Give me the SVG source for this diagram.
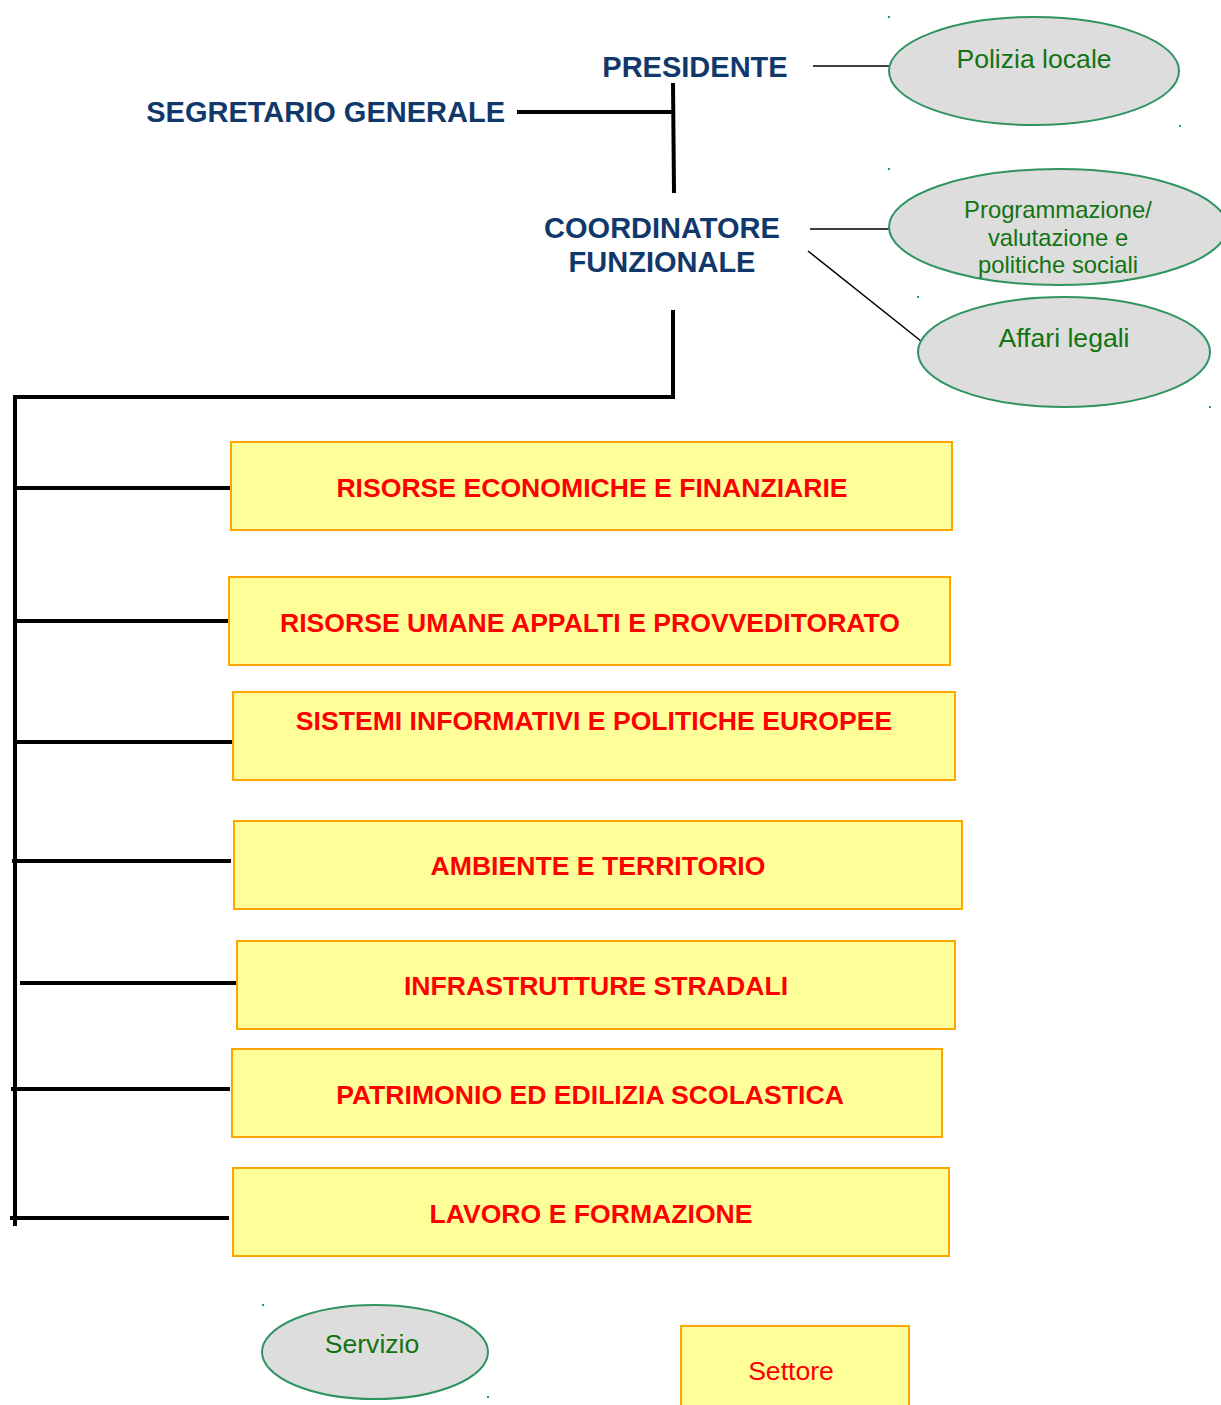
<svg xmlns="http://www.w3.org/2000/svg" width="1221" height="1405" viewBox="0 0 1221 1405">
<style>
.navy{font-family:"Liberation Sans",Arial,sans-serif;font-weight:bold;font-size:29px;fill:#10386b}
.red{font-family:"Liberation Sans",Arial,sans-serif;font-weight:bold;font-size:26.6px;fill:#f00;text-anchor:middle}
.grn{font-family:"Liberation Sans",Arial,sans-serif;font-size:26.6px;fill:#137313;text-anchor:middle}
.grn.sm{font-size:23.8px}
.ell{fill:#dddddd;stroke:#2f9460;stroke-width:2}
.box{fill:#ffff99;stroke:#ffa500;stroke-width:2}
.thick{stroke:#000;stroke-width:4;fill:none}
.thin{stroke:#000;stroke-width:1.5;fill:none}
.dot{fill:#2f9460}
</style>
<rect width="1221" height="1405" fill="#fff"/>
<g id="connectors">
<path class="thick" d="M517,112 H673 M673,83 L674,193 M673,310 V397 H15 M15,395 V1226"/>
<path class="thick" d="M15,488 H232 M13,621 H230 M15,742 H234 M12,861 H231 M20,983 H236 M11,1089 H230 M10,1218 H229"/>
<path class="thin" d="M813,66 H890 M810,229 H889 M808,251 L926,345"/>
</g>
<g id="presidente"><text class="navy" x="695" y="77" text-anchor="middle">PRESIDENTE</text></g>
<g id="segretario"><text class="navy" x="505" y="122" text-anchor="end">SEGRETARIO GENERALE</text></g>
<g id="coordinatore"><text class="navy" x="662" y="238" text-anchor="middle">COORDINATORE</text><text class="navy" x="662" y="272" text-anchor="middle">FUNZIONALE</text></g>
<g id="polizia"><ellipse class="ell" cx="1034" cy="71" rx="145" ry="54"/><text class="grn" x="1034" y="68">Polizia locale</text><rect class="dot" x="888" y="16" width="2" height="2"/><rect class="dot" x="1179" y="125" width="2" height="2"/></g>
<g id="programmazione"><ellipse class="ell" cx="1058" cy="227" rx="169" ry="58"/><text class="grn sm" x="1058" y="218">Programmazione/</text><text class="grn sm" x="1058" y="246">valutazione e</text><text class="grn sm" x="1058" y="273">politiche sociali</text><rect class="dot" x="888" y="168" width="2" height="2"/></g>
<g id="affari"><ellipse class="ell" cx="1064" cy="352" rx="146" ry="55"/><text class="grn" x="1064" y="347">Affari legali</text><rect class="dot" x="917" y="296" width="2" height="2"/><rect class="dot" x="1209" y="406" width="2" height="2"/></g>
<g id="s1"><rect class="box" x="231" y="442" width="721" height="88"/><text class="red" x="592" y="497">RISORSE ECONOMICHE E FINANZIARIE</text></g>
<g id="s2"><rect class="box" x="229" y="577" width="721" height="88"/><text class="red" x="590" y="632">RISORSE UMANE APPALTI E PROVVEDITORATO</text></g>
<g id="s3"><rect class="box" x="233" y="692" width="722" height="88"/><text class="red" x="594" y="730">SISTEMI INFORMATIVI E POLITICHE EUROPEE</text></g>
<g id="s4"><rect class="box" x="234" y="821" width="728" height="88"/><text class="red" x="598" y="875">AMBIENTE E TERRITORIO</text></g>
<g id="s5"><rect class="box" x="237" y="941" width="718" height="88"/><text class="red" x="596" y="995">INFRASTRUTTURE STRADALI</text></g>
<g id="s6"><rect class="box" x="232" y="1049" width="710" height="88"/><text class="red" x="590" y="1104">PATRIMONIO ED EDILIZIA SCOLASTICA</text></g>
<g id="s7"><rect class="box" x="233" y="1168" width="716" height="88"/><text class="red" x="591" y="1223">LAVORO E FORMAZIONE</text></g>
<g id="legend-servizio"><ellipse class="ell" cx="375" cy="1352" rx="113" ry="47"/><text class="grn" x="372" y="1353">Servizio</text><rect class="dot" x="262" y="1304" width="2" height="2"/><rect class="dot" x="487" y="1396" width="2" height="2"/></g>
<g id="legend-settore"><rect class="box" x="681" y="1326" width="228" height="90"/><text x="791" y="1380" font-family="Liberation Sans, Arial, sans-serif" font-size="26.6" fill="#f00" text-anchor="middle">Settore</text></g>
</svg>
